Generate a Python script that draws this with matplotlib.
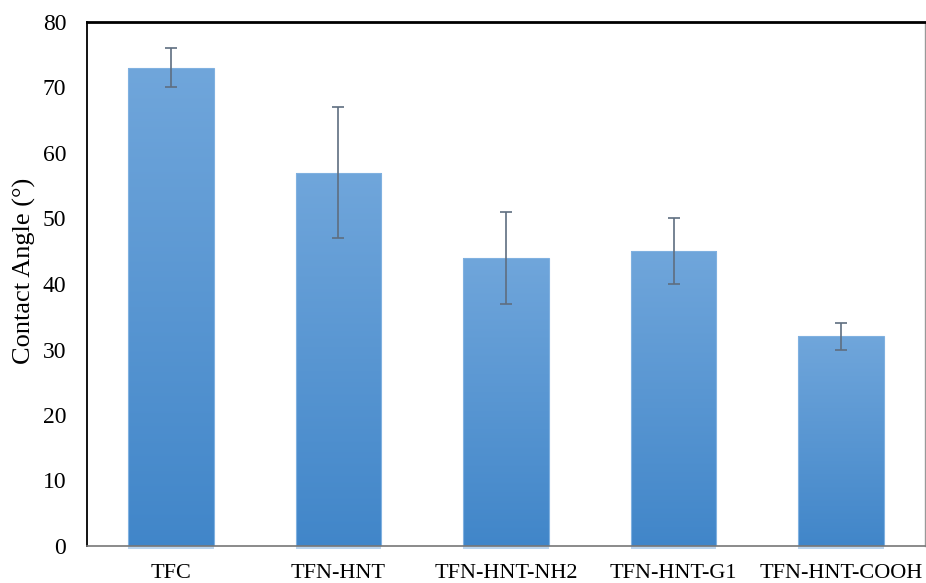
import numpy as np
import matplotlib
matplotlib.use("Agg")
import matplotlib.pyplot as plt
from matplotlib.colors import LinearSegmentedColormap

categories = ["TFC", "TFN-HNT", "TFN-HNT-NH2", "TFN-HNT-G1", "TFN-HNT-COOH"]
contact_angle = [73, 57, 44, 45, 32]
err_low = [3, 10, 7, 5, 2]
err_high = [3, 10, 7, 5, 2]

plt.rcParams["font.family"] = ["Liberation Serif", "DejaVu Serif"]

fig = plt.figure(figsize=(9.26, 5.83), dpi=100)
ax = fig.add_axes([87 / 926, 1 - 546 / 583, (925 - 87) / 926, (546 - 22) / 583])

x = np.arange(len(categories))
bars = ax.bar(x, contact_angle, width=0.51, color="none", edgecolor="#80b1e0",
              linewidth=0.8, zorder=2)

# soft reflection strip under each bar, just below the baseline
ax.bar(x, [-0.45] * len(x), width=0.51, color="#bcd5ee", edgecolor="none",
       clip_on=False, zorder=1)

cmap = LinearSegmentedColormap.from_list("barfill", ["#4186c9", "#70a6db"])
grad = np.linspace(0, 1, 256).reshape(-1, 1)
for b in bars:
    x0, y0 = b.get_x(), b.get_y()
    w, h = b.get_width(), b.get_height()
    im = ax.imshow(grad, cmap=cmap, origin="lower", aspect="auto",
                   extent=[x0, x0 + w, y0, y0 + h], zorder=1)
    im.set_clip_path(b)

ax.errorbar(x, contact_angle, yerr=[err_low, err_high], fmt="none",
            ecolor="#5f6e80", elinewidth=1.2, capsize=4.5, capthick=1.2, zorder=3)

ax.set_xlim(-0.5, len(categories) - 0.5)
ax.set_ylim(0, 80)
ax.set_yticks(range(0, 81, 10))
ax.set_xticks(x)
ax.set_xticklabels(categories, fontsize=16)
ax.tick_params(axis="y", labelsize=17, length=0, pad=15)
ax.tick_params(axis="x", length=0, pad=13)
ax.set_ylabel("Contact Angle (°)", fontsize=19)
ax.yaxis.set_label_coords(-0.061, 0.525)

ax.spines["left"].set_color("black")
ax.spines["left"].set_linewidth(1.3)
ax.spines["top"].set_color("black")
ax.spines["top"].set_linewidth(2.0)
ax.spines["bottom"].set_color("#777777")
ax.spines["bottom"].set_linewidth(1.2)
ax.spines["right"].set_color("#999999")
ax.spines["right"].set_linewidth(1.0)

fig.savefig("out.png", dpi=100)
